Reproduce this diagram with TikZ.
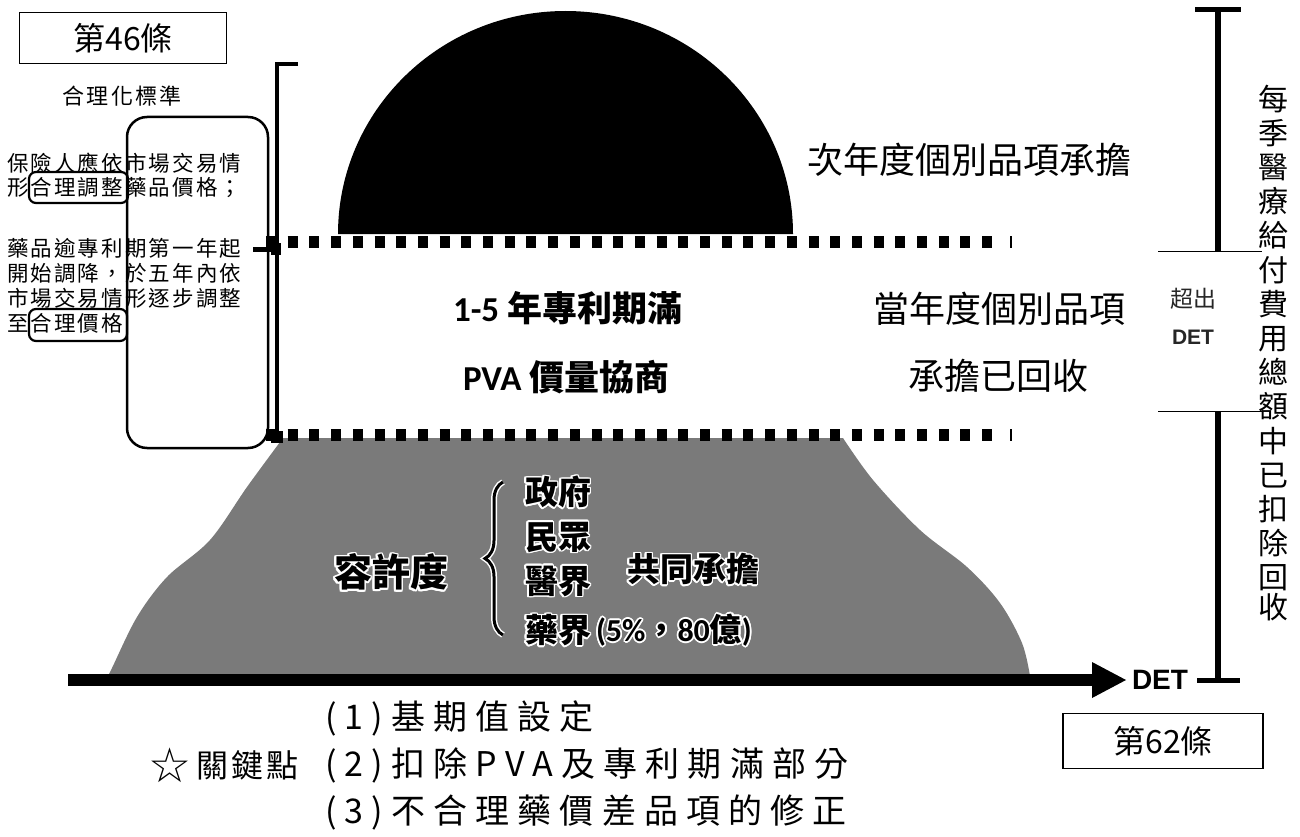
\documentclass[tikz,border=0pt]{standalone}
\usepackage{fontspec}
\usepackage[copies]{contour}
\usetikzlibrary{decorations.pathreplacing}
\setmainfont{Noto Sans CJK TC}
\newfontfamily\cjk{Noto Sans CJK TC}
\newfontfamily\cjkls[LetterSpace=10]{Noto Sans CJK TC}
\newfontfamily\cjkwide[LetterSpace=24]{Noto Sans CJK TC}
\newfontfamily\lat{Carlito}
\newfontfamily\arialf{Liberation Sans}
\newfontfamily\dvs{DejaVu Sans}
\newcommand\fsz[1]{\fontsize{#1}{#1}\selectfont}
\contourlength{1.6pt}
\contournumber{16}
\definecolor{mountgray}{gray}{0.48}
\tikzset{
  txt/.style={inner sep=0pt, outer sep=0pt},
  lefttxt/.style={txt, anchor=west, font=\cjkls\fsz{21.5}},
  bigtxt/.style={txt, font=\cjk\fsz{36}},
  boldtxt/.style={txt, font=\bfseries\fsz{35}},
  mtxt/.style={txt, anchor=west, font=\cjk\bfseries\fsz{33}},
  listtxt/.style={txt, anchor=west, font=\cjkwide\fsz{34}},
  labelbox/.style={draw, line width=1.6pt, inner sep=0pt},
  dotline/.style={line width=12pt, dash pattern=on 10pt off 11.7pt},
  endtick/.style={line width=1.6pt},
  bracketline/.style={line width=4pt},
  rightbar/.style={line width=6pt},
  thinline/.style={line width=1pt},
  outlinebox/.style={draw, line width=2.2pt, rounded corners=7pt},
}
\begin{document}
\begin{tikzpicture}[x=1pt,y=-1pt]
\useasboundingbox (0,0) rectangle (1300,837);

% ---------- gray mountain ----------
\fill[mountgray] (843,438) -- (283,438) -- plot[smooth,tension=0.55] coordinates {(283,438) (247,487) (210,540) (167,577) (137,617) (112,668) (108,676)} -- plot[smooth,tension=0.55] coordinates {(1030,676) (1022,643) (1000,603) (967,567) (920,530) (873,480) (843,438)} -- cycle;

% ---------- black dome ----------
\fill[black] (338,234) arc[start angle=180, end angle=360, x radius=227.5, y radius=223] -- cycle;

% ---------- dotted lines ----------
\coordinate (dt1) at (266,242);
\coordinate (dt2) at (1000,242);
\coordinate (db1) at (266,435);
\coordinate (db2) at (1000,435);
\draw[dotline] (dt1) -- (dt2);
\draw[dotline] (db1) -- (db2);
\draw[endtick] (1011,236) -- (1011,248);
\draw[endtick] (1011,429) -- (1011,441);

% ---------- left bracket ----------
\coordinate (bt) at (298,64);
\coordinate (bc) at (277,64);
\coordinate (bb) at (277,437);
\coordinate (bm) at (277,249);
\coordinate (bl) at (253,249);
\draw[bracketline] (bt) -- (bc) -- (bb);
\draw[line width=5pt] (bl) -- (bm);
\fill (271,243) rectangle (281,255);
\fill (271,431) rectangle (283,443);

% ---------- left boxes ----------
\node[labelbox, minimum width=207pt, minimum height=51pt, font=\cjk\fsz{32}] (art46) at (123,38) {第46條};
\node[txt, font=\cjkls\fsz{22}] (std) at (122,96) {合理化標準};
\draw[line width=2.5pt, rounded corners=20pt] (127,117) rectangle (268,448);
\node[lefttxt] (l1) at (7,163) {保險人應依市場交易情};
\node[lefttxt] (l2) at (7,188) {形合理調整藥品價格；};
\node[lefttxt] (l3) at (7,248) {藥品逾專利期第一年起};
\node[lefttxt] (l4) at (7,273) {開始調降，於五年內依};
\node[lefttxt] (l5) at (7,298) {市場交易情形逐步調整};
\node[lefttxt] (l6) at (7,323) {至合理價格};
\draw[outlinebox] (29,172) rectangle (128,203);
\draw[outlinebox] (29,309) rectangle (127,341);

% ---------- central texts ----------
\node[bigtxt, anchor=west] (next) at (807,160) {次年度個別品項承擔};
\node[boldtxt, anchor=west] (yr) at (453,308) {{\lat\bfseries 1-5 }{\cjk\bfseries 年專利期滿}};
\node[boldtxt, anchor=west] (pva) at (463,377) {{\lat\bfseries PVA }{\cjk\bfseries 價量協商}};
\node[bigtxt] (cur1) at (999,309) {當年度個別品項};
\node[bigtxt] (cur2) at (998,376) {承擔已回收};

% ---------- mountain texts ----------
\node[txt, font=\cjk\bfseries\fsz{38}] (tol) at (391,573) {\contour{white}{容許度}};
\coordinate (brB) at (503,635);
\coordinate (brT) at (503,482);
\draw[white, line width=6pt, decorate, decoration={brace, amplitude=18pt}] (brB) -- (brT);
\draw[black, line width=3pt, decorate, decoration={brace, amplitude=18pt}] (brB) -- (brT);
\node[mtxt] (g1) at (525,493) {\contour{white}{政府}};
\node[mtxt] (g2) at (525,538) {\contour{white}{民眾}};
\node[mtxt] (g3) at (525,582) {\contour{white}{醫界}};
\node[mtxt] (g4) at (525,631) {\contour{white}{藥界}};
\node[txt, anchor=west, font=\bfseries\fsz{32}] (pct) at (596,631) {\contour{white}{{\lat\bfseries (5\%}{\cjk\bfseries ，}{\lat\bfseries 80}{\cjk\bfseries 億}{\lat\bfseries )}}};
\node[mtxt] (share) at (627,570) {\contour{white}{共同承擔}};

% ---------- axis ----------
\coordinate (ax0) at (68,680);
\coordinate (ax1) at (1094,680);
\draw[line width=12pt] (ax0) -- (ax1);
\fill (1092,662) -- (1126,680) -- (1092,698) -- cycle;
\node[txt, anchor=west, font=\arialf\bfseries\fsz{28}] (det) at (1132,680) {DET};

% ---------- right bar ----------
\coordinate (r0) at (1218,10);
\coordinate (r1) at (1218,251);
\coordinate (r2) at (1218,411);
\coordinate (r3) at (1218,680);
\draw[rightbar] (r0) -- (r1);
\draw[rightbar] (r2) -- (r3);
\draw[line width=5pt] (1195,10) -- (1241,10);
\draw[line width=5pt] (1197,680) -- (1240,680);
\draw[thinline] (1158,251) -- (1262,251);
\draw[thinline] (1158,411) -- (1262,411);
\node[txt, font=\cjk\fsz{23}, text=black!85] (exc) at (1193,299) {超出};
\node[txt, font=\arialf\bfseries\fsz{21}, text=black!85] (excdet) at (1193,337) {DET};
\node[txt, font=\cjk\fsz{30}, align=center, text width=32pt] (vert) at (1273,353) {%
\baselineskip=34.2pt
每\\季\\醫\\療\\給\\付\\費\\用\\總\\額\\中\\已\\扣\\除\\回\\收};

\node[labelbox, minimum width=200pt, minimum height=55pt, font=\cjk\fsz{32}] (art62) at (1163,741) {第62條};

% ---------- key points ----------
\node[txt, font=\dvs\fsz{48}] (star) at (170,765) {☆};
\node[txt, anchor=west, font=\cjkls\fsz{32}] (key) at (196,765) {關鍵點};
\node[listtxt] (k1) at (325,718) {(1)基期值設定};
\node[listtxt] (k2) at (325,765) {(2)扣除PVA及專利期滿部分};
\node[listtxt] (k3) at (325,812) {(3)不合理藥價差品項的修正};
\end{tikzpicture}
\end{document}
